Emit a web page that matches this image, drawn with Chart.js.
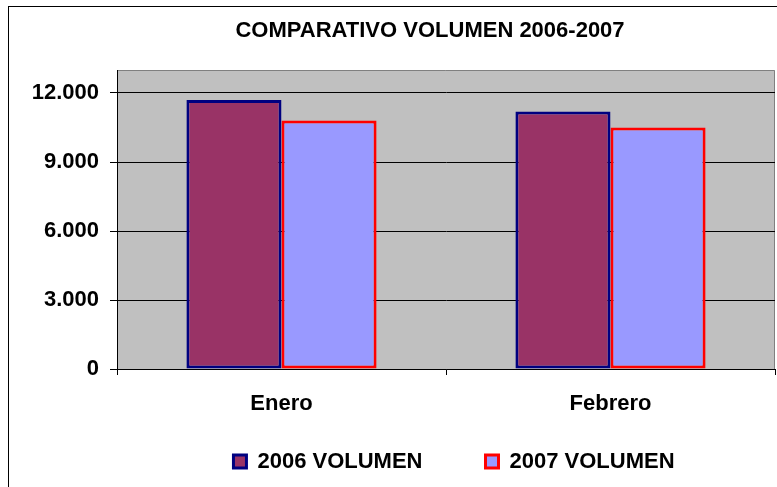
<!DOCTYPE html>
<html>
<head>
<meta charset="utf-8">
<script src="https://cdn.jsdelivr.net/npm/chart.js@4"></script>
<style>
  body { margin: 0; background: #fff; }
  canvas { display: block; }
</style>
</head>
<body>
<canvas id="volChart" width="777" height="487"></canvas>
<script>
// data
const categories = ['Enero', 'Febrero'];
const volumen2006 = [11700, 11200];
const volumen2007 = [10800, 10500];
const yTicks = [0, 3000, 6000, 9000, 12000];
const yMax = 13000;

const FONT = '"Liberation Sans", Arial, sans-serif';

// puts a dot every three digits, like 12.000
function miles(v) {
    return String(v).replace(/\B(?=(\d{3})+(?!\d))/g, '.');
}

// white page, outer frame and the grey plot area
const backdrop = {
    id: 'backdrop',
    beforeDraw(chart) {
        const ctx = chart.ctx;
        const a = chart.chartArea;
        ctx.save();
        ctx.fillStyle = '#fff';
        ctx.fillRect(0, 0, chart.width, chart.height);
        ctx.strokeStyle = '#000';
        ctx.lineWidth = 1;
        ctx.strokeRect(8.5, 6.5, chart.width + 20, chart.height + 20);
        ctx.fillStyle = '#C0C0C0';
        ctx.fillRect(a.left, a.top, a.right - a.left, a.bottom - a.top);
        ctx.strokeStyle = '#808080';
        ctx.beginPath();
        ctx.moveTo(a.left, a.top + 0.5);
        ctx.lineTo(a.right - 0.5, a.top + 0.5);
        ctx.lineTo(a.right - 0.5, a.bottom);
        ctx.stroke();
        ctx.restore();
    }
};

// layout tweaks: let axis labels spill out of their narrow boxes,
// and move the legend a little right of the plot centre
const layoutTweaks = {
    id: 'layoutTweaks',
    afterLayout(chart) {
        chart.scales.y.left = 0;
        chart.scales.x.bottom = chart.height;
        chart.legend.left += 8;
        chart.legend.right += 8;
    }
};

const ctx = document.getElementById('volChart').getContext('2d');
const volChart = new Chart(ctx, {
    type: 'bar',
    data: {
        labels: categories,
        datasets: [{
            label: '2006 VOLUMEN',
            data: volumen2006,
            backgroundColor: '#993366',
            borderColor: '#000080',
            borderWidth: 3,
            borderSkipped: false
        }, {
            label: '2007 VOLUMEN',
            data: volumen2007,
            backgroundColor: '#9999FF',
            borderColor: '#FF0000',
            borderWidth: 3,
            borderSkipped: false
        }]
    },
    options: {
        responsive: false,
        animation: false,
        devicePixelRatio: 1,
        layout: {
            padding: { left: 85, right: 2, top: 0, bottom: 4.5 }
        },
        datasets: {
            bar: { categoryPercentage: 0.578, barPercentage: 1.0 }
        },
        plugins: {
            title: {
                display: true,
                text: 'COMPARATIVO VOLUMEN 2006-2007',
                color: '#000',
                font: { family: FONT, size: 22, weight: 'bold' },
                padding: { top: 18, bottom: 25.6 }
            },
            legend: {
                position: 'bottom',
                fullSize: false,
                labels: {
                    color: '#000',
                    font: { family: FONT, size: 22, weight: 'bold' },
                    boxWidth: 13,
                    boxHeight: 13,
                    padding: 63
                }
            },
            tooltip: { enabled: false }
        },
        scales: {
            x: {
                offset: true,
                grid: {
                    offset: true,
                    drawOnChartArea: false,
                    drawTicks: true,
                    tickLength: 6,
                    color: '#000',
                    tickColor: '#000'
                },
                border: { display: true, color: '#000', width: 1 },
                ticks: {
                    color: '#000',
                    padding: 16,
                    font: { family: FONT, size: 22, weight: 'bold' }
                },
                afterFit(scale) { scale.height = 18.5; }
            },
            y: {
                min: 0,
                max: yMax,
                grid: {
                    color: '#000',
                    borderDash: [1, 1],
                    tickBorderDash: [],
                    tickColor: '#000',
                    tickLength: 7,
                    lineWidth: 1
                },
                border: { display: true, color: '#000', width: 1 },
                ticks: {
                    color: '#000',
                    padding: 11,
                    font: { family: FONT, size: 22, weight: 'bold' },
                    callback: (v) => miles(v)
                },
                afterBuildTicks(scale) {
                    scale.ticks = yTicks.map(v => ({ value: v }));
                },
                afterFit(scale) { scale.width = 32; }
            }
        }
    },
    plugins: [backdrop, layoutTweaks]
});
</script>
</body>
</html>
